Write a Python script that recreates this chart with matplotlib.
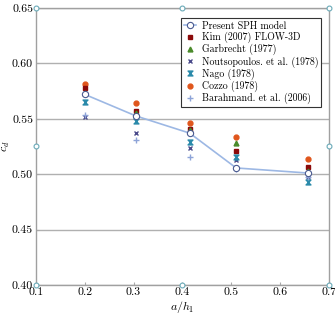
import numpy as np
import matplotlib
matplotlib.use("Agg")
from matplotlib import pyplot as plt
from matplotlib.path import Path

# a/h1 positions and c_d values
x = [0.2, 0.305, 0.415, 0.51, 0.657]
sph = [0.572, 0.5525, 0.537, 0.5056, 0.501]
kim = [0.578, 0.557, 0.541, 0.521, 0.5065]
garbrecht = [0.573, 0.555, 0.540, 0.528, 0.503]
noutsopoulos = [0.5516, 0.537, 0.5236, 0.513, 0.4975]
nago = [0.565, 0.548, 0.529, 0.5155, 0.493]
cozzo = [0.5814, 0.564, 0.546, 0.5336, 0.5137]
barahmand = [0.553, 0.531, 0.5155, 0.505, 0.497]

xticks = [0.1, 0.2, 0.3, 0.4, 0.5, 0.6, 0.7]
yticks = [0.40, 0.45, 0.50, 0.55, 0.60, 0.65]

plt.rcParams['font.family'] = ['cmr10', 'DejaVu Serif']
plt.rcParams['mathtext.fontset'] = 'cm'
plt.rcParams['axes.formatter.use_mathtext'] = True

hourglass = Path([(-1, 1), (1, 1), (-1, -1), (1, -1), (-1, 1)],
                 [Path.MOVETO, Path.LINETO, Path.LINETO, Path.LINETO, Path.CLOSEPOLY])

fig = plt.figure(figsize=(3.35, 3.17), dpi=100)
ax = fig.add_axes([0.107, 0.101, 0.875, 0.874])

ax.plot(x, sph, '-', color='#9db8e4', lw=1.2, marker='o', ms=4.5,
        mfc='white', mec='#4a5a90', mew=0.8, label='Present SPH model', zorder=5)
ax.plot(x, kim, 's', color='#8b0a0a', ms=3.5, ls='none', label='Kim (2007) FLOW-3D', zorder=3)
ax.plot(x, garbrecht, '^', color='#4a8a2a', ms=3.5, ls='none', label='Garbrecht (1977)', zorder=3)
ax.plot(x, noutsopoulos, 'x', color='#4a4a8a', ms=3.5, mew=1.0, ls='none',
        label='Noutsopoulos. et al. (1978)', zorder=3)
ax.plot(x, nago, marker=hourglass, color='#2a8aaa', ms=3.5, ls='none', label='Nago (1978)', zorder=3)
ax.plot(x, cozzo, 'o', color='#e0561c', ms=3.5, ls='none', label='Cozzo (1978)', zorder=2)
ax.plot(x, barahmand, '+', color='#8ea4d8', ms=4, mew=1.0, ls='none',
        label='Barahmand. et al. (2006)', zorder=3)

ax.set_xlim(0.1, 0.7)
ax.set_ylim(0.40, 0.65)
ax.set_xticks(xticks)
ax.set_yticks(yticks)
ax.set_xticklabels(['%.1f' % v for v in xticks])
ax.set_yticklabels(['%.2f' % v for v in yticks])
ax.tick_params(labelsize=8.5, color='#aaaaaa', direction='in', length=2, width=0.8, pad=2)
ax.grid(axis='y', color='#b0b0b0', lw=1.0)
ax.set_axisbelow(True)
for s in ax.spines.values():
    s.set_color('#a0a0a0')
    s.set_linewidth(1.0)

ax.set_xlabel('$a/h_1$', fontsize=8.5, labelpad=1)
ax.set_ylabel('$c_d$', fontsize=8.5)
ax.yaxis.set_label_coords(-0.08, 0.5)

# small handle circles around the frame
hx = [0.1, 0.4, 0.7, 0.1, 0.7, 0.1, 0.4, 0.7]
hy = [0.65, 0.65, 0.65, 0.525, 0.525, 0.40, 0.40, 0.40]
ax.plot(hx, hy, 'o', ms=3.5, mfc='white', mec='#6aaab8', mew=0.8, ls='none', clip_on=False, zorder=10)

leg = ax.legend(loc='upper right', bbox_to_anchor=(0.99, 0.98), fontsize=7.1, frameon=True,
                fancybox=False, edgecolor='#333333', framealpha=1, handlelength=1.2,
                handletextpad=0.6, borderpad=0.3, labelspacing=0.1)
leg.get_frame().set_linewidth(0.8)

fig.savefig('out.png', dpi=100)
